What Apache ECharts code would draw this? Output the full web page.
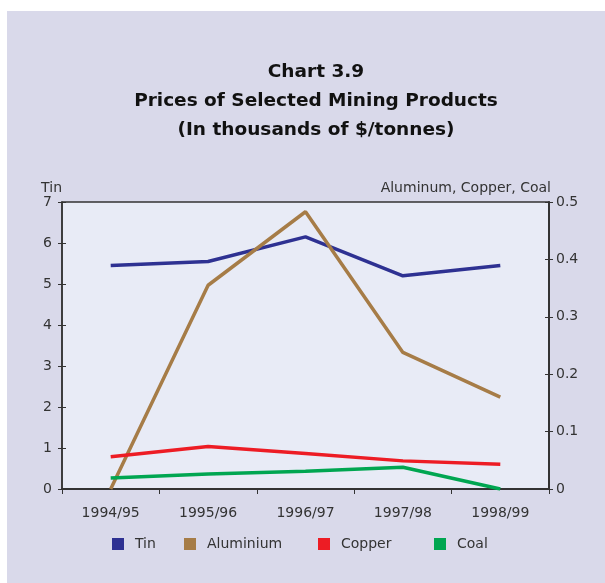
<!DOCTYPE html>
<html lang="en">
<head>
    <meta charset="UTF-8">
    <title>Chart 3.9</title>
    <script src="https://cdn.jsdelivr.net/npm/echarts@6/dist/echarts.min.js"></script>
    <style>
        html, body { margin: 0; padding: 0; background: #ffffff; }
        #panel { position: absolute; left: 7px; top: 11px; width: 598px; height: 572px; background: #d9d9ea; }
        #main { position: absolute; left: 0; top: 0; width: 605px; height: 583px; }
    </style>
</head>
<body>
<div id="panel"></div>
<div id="main"></div>
<script type="text/javascript">
    var years = ['1994/95', '1995/96', '1996/97', '1997/98', '1998/99'];
    // left axis (Tin)
    var tin = [5.45, 5.55, 6.15, 5.2, 5.45];
    // right axis
    var aluminium = [0, 0.355, 0.483, 0.238, 0.16];
    var copper = [0.056, 0.074, 0.062, 0.049, 0.043];
    var coal = [0.019, 0.026, 0.031, 0.038, 0];

    var names = ['Tin', 'Aluminium', 'Copper', 'Coal'];
    var colors = ['#2e3192', '#a67c47', '#ed1c24', '#00a651'];
    var legendX = [112, 184, 318, 434];

    var font = 'DejaVu Sans';
    var txt = '#333333';
    var dom = document.getElementById('main');
    var myChart = echarts.init(dom);

    function line(i, data, axis) {
        return {
            name: names[i],
            type: 'line',
            yAxisIndex: axis,
            data: data,
            symbol: 'none',
            lineStyle: { color: colors[i], width: 3.5 },
            itemStyle: { color: colors[i] }
        };
    }

    // one legend per item so each sits where the original has it
    var legends = [];
    for (var i = 0; i < names.length; i++) {
        legends.push({
            top: 537,
            left: legendX[i],
            padding: 0,
            icon: 'rect',
            itemWidth: 12,
            itemHeight: 12,
            textStyle: { fontFamily: font, fontSize: 14, color: txt, padding: [0, 0, 0, 6] },
            data: [names[i]]
        });
    }

    var option = {
        animation: false,
        backgroundColor: 'transparent',
        textStyle: { fontFamily: font, color: txt },
        title: {
            text: 'Chart 3.9\nPrices of Selected Mining Products\n(In thousands of $/tonnes)',
            left: 311,
            textAlign: 'center',
            top: 53,
            textStyle: { fontFamily: font, fontSize: 18.5, fontWeight: 'bold', color: '#111', lineHeight: 29 }
        },
        legend: legends,
        grid: {
            left: 62, right: 56, top: 202, bottom: 94,
            show: true,
            backgroundColor: '#e8ebf6',
            borderColor: '#333',
            borderWidth: 1.5
        },
        xAxis: {
            type: 'category',
            data: years,
            boundaryGap: true,
            axisLine: { lineStyle: { color: '#333', width: 2 } },
            axisTick: { show: true, length: 5, lineStyle: { color: '#333' } },
            axisLabel: { color: txt, fontSize: 14, fontFamily: font, margin: 17 },
            splitLine: { show: false }
        },
        yAxis: [
            {
                type: 'value', position: 'left', min: 0, max: 7, interval: 1,
                name: 'Tin', nameLocation: 'end', nameGap: 7,
                nameTextStyle: { align: 'right', color: txt, fontSize: 14, fontFamily: font },
                axisLine: { show: true, lineStyle: { color: '#333', width: 1.5 } },
                axisTick: { show: true, length: 4, lineStyle: { color: '#333' } },
                axisLabel: { color: txt, fontSize: 14, fontFamily: font, margin: 10 },
                splitLine: { show: false }
            },
            {
                type: 'value', position: 'right', min: 0, max: 0.5, interval: 0.1,
                name: 'Aluminum, Copper, Coal', nameLocation: 'end', nameGap: 7,
                nameTextStyle: { align: 'right', color: txt, fontSize: 14, fontFamily: font, padding: [0, -2, 0, 0] },
                axisLine: { show: true, lineStyle: { color: '#333', width: 2 } },
                axisTick: { show: true, length: 4, lineStyle: { color: '#333' } },
                axisLabel: { color: txt, fontSize: 14, fontFamily: font, margin: 7 },
                splitLine: { show: false }
            },
            {
                // inner half of the crossing ticks on the left
                type: 'value', position: 'left', min: 0, max: 7, interval: 1,
                axisLine: { show: false },
                axisTick: { show: true, inside: true, length: 4, lineStyle: { color: '#333' } },
                axisLabel: { show: false },
                splitLine: { show: false }
            },
            {
                type: 'value', position: 'right', min: 0, max: 0.5, interval: 0.1,
                axisLine: { show: false },
                axisTick: { show: true, inside: true, length: 4, lineStyle: { color: '#333' } },
                axisLabel: { show: false },
                splitLine: { show: false }
            }
        ],
        series: [
            line(0, tin, 0),
            line(1, aluminium, 1),
            line(2, copper, 1),
            line(3, coal, 1)
        ]
    };
    myChart.setOption(option);
</script>
</body>
</html>
